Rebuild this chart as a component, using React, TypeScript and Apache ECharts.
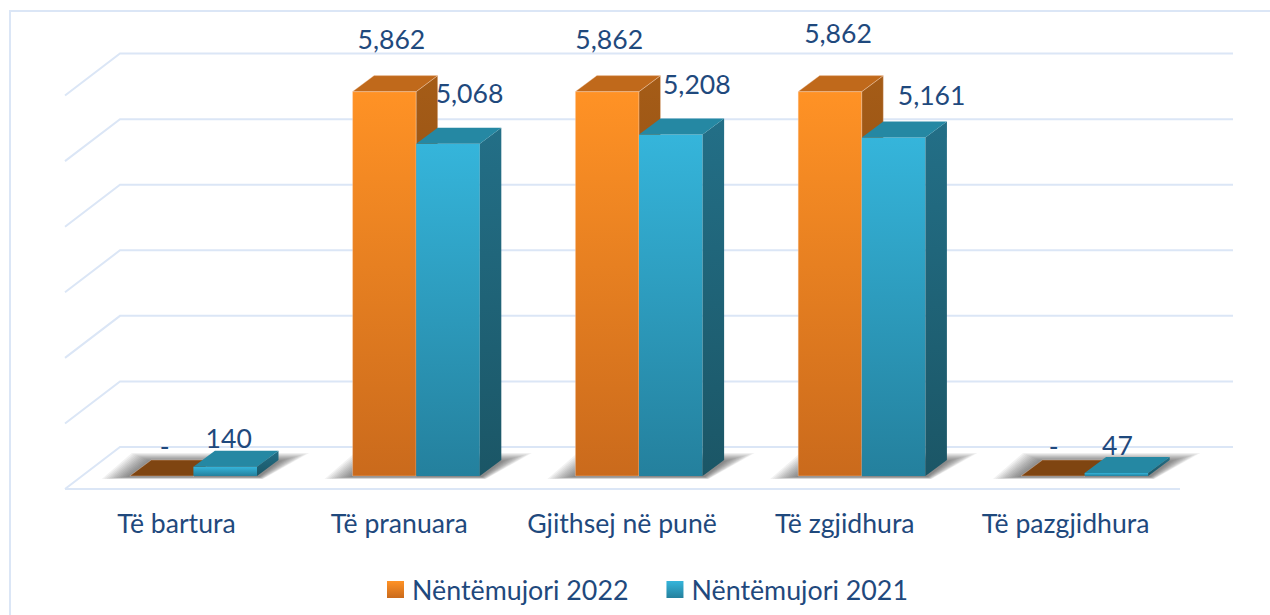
import React, { useEffect, useRef } from "react";
import * as echarts from "echarts";

const categories = ["Të bartura", "Të pranuara", "Gjithsej në punë", "Të zgjidhura", "Të pazgjidhura"];
const seriesNames = ["Nëntëmujori 2022", "Nëntëmujori 2021"];
const values2022 = [0, 5862, 5862, 5862, 0];
const values2021 = [140, 5068, 5208, 5161, 47];
const gridTicks = [0, 1000, 2000, 3000, 4000, 5000, 6000];

// Layout only: hand-placed labels of the original, relative to each bar's top centre
const labelOffsets2022 = [[3, -30], [7, -53], [2, -53], [8, -59], [1, -30]];
const labelOffsets2021 = [[3.5, -29], [21.5, -51], [26, -50.5], [38, -42.6], [1, -28]];
const categoryLabelShift = [34, 34, 34, 34, 38];

const FONT = "Lato";
const INK = "#1f497d";
const LINE = "#dbe6f6";
const VALUE_FONT = `26.6px ${FONT}`;
const DEPTH_X = 21.5;
const DEPTH_Y = 16;
const BAR_RATIO = 0.2855;

const vgrad = (a: string, b: string) => new echarts.graphic.LinearGradient(0, 0, 0, 1, [
  { offset: 0, color: a },
  { offset: 1, color: b },
]);

const fmt = (v: number) => (v === 0 ? "-" : v.toLocaleString("en-US"));

const palette = [
  { front: ["#ff9225", "#ca6a1c"], side: ["#a55c17", "#7f4511"], top: "#c0691b", flat: "#7f4511", edge: "rgba(255,225,200,0.4)" },
  { front: ["#35b5db", "#24809d"], side: ["#236f87", "#1b5666"], top: "#2588a3", flat: "#2489a3", edge: "none" },
];

function barRenderer(seriesIndex: number, offsets: number[][]) {
  return (params: any, api: any) => {
    const c = palette[seriesIndex];
    const cat = api.value(0);
    const val = api.value(1);
    const band = api.size([1, 0])[0];
    const w = band * BAR_RATIO;
    const [cx, base] = api.coord([cat, 0]);
    const top = api.coord([cat, val])[1];
    const x0 = seriesIndex === 0 ? cx - w : cx;
    const x1 = x0 + w;
    const children: any[] = [];
    const poly = (points: number[][], fill: any) => ({
      type: "polygon",
      shape: { points },
      style: { fill, stroke: c.edge, lineWidth: 0.8 },
      silent: true,
    });
    if (base - top > 0.5) {
      children.push(poly([[x0, top], [x1, top], [x1, base], [x0, base]], vgrad(c.front[0], c.front[1])));
    }
    children.push(poly([[x1, top], [x1 + DEPTH_X, top - DEPTH_Y], [x1 + DEPTH_X, base - DEPTH_Y], [x1, base]], vgrad(c.side[0], c.side[1])));
    children.push(poly([[x0, top], [x0 + DEPTH_X, top - DEPTH_Y], [x1 + DEPTH_X, top - DEPTH_Y], [x1, top]], val === 0 ? c.flat : c.top));
    const off = offsets[params.dataIndex];
    children.push({
      type: "text",
      z2: 50,
      style: {
        text: fmt(val),
        x: (x0 + x1) / 2 + off[0],
        y: top + off[1],
        fill: INK,
        font: VALUE_FONT,
        align: "center",
        verticalAlign: "middle",
      },
      silent: true,
    });
    return { type: "group", children };
  };
}

function gridRenderer(params: any, api: any) {
  const cs = params.coordSys;
  const v = api.value(0);
  const y = api.coord([0, v])[1] - 29;
  const left = cs.x;
  const right = cs.x + cs.width;
  const style = { stroke: LINE, lineWidth: 2, fill: "none" };
  const children: any[] = [
    { type: "polyline", shape: { points: [[left - 17, y + 42], [left + 38, y], [right + 37, y]] }, style, silent: true },
  ];
  if (v === 0) {
    children.push({ type: "line", shape: { x1: left - 17, y1: y + 42, x2: right - 16, y2: y + 42 }, style, silent: true });
  }
  return { type: "group", children };
}

function shadowRenderer(params: any, api: any) {
  const band = api.size([1, 0])[0];
  const w = band * BAR_RATIO;
  const [cx, base] = api.coord([api.value(0), 0]);
  const xL = cx - w;
  const xR = cx + w;
  const outer = [[xL - 28, base + 3], [xL + 2, base - 23], [xR + 52, base - 23], [xR + 6, base + 3]];
  const inner = [[xL - 2, base + 1], [xL + 20, base - 15], [xR + 23, base - 15], [xR + 2, base + 1]];
  const steps = 12;
  const children: any[] = [];
  for (let i = 0; i < steps; i++) {
    const t = i / (steps - 1);
    children.push({
      type: "polygon",
      shape: { points: outer.map((p, k) => [p[0] + (inner[k][0] - p[0]) * t, p[1] + (inner[k][1] - p[1]) * t]) },
      style: { fill: "rgba(40,40,40,0.06)" },
      silent: true,
    });
  }
  return { type: "group", children };
}

export default function App() {
  const ref = useRef<HTMLDivElement>(null);
  useEffect(() => {
    const chart = echarts.init(ref.current!, undefined, { renderer: "svg" });
    chart.setOption({
      animation: false,
      backgroundColor: "#ffffff",
      textStyle: { fontFamily: FONT },
      grid: { left: 82, top: 17, width: 1114, height: 459 },
      xAxis: {
        type: "category",
        data: categories.map((value, i) => ({
          value,
          textStyle: { padding: [0, categoryLabelShift[i], 0, 0] },
        })),
        axisLine: { show: false },
        axisTick: { show: false },
        splitLine: { show: false },
        axisLabel: { color: INK, fontSize: 26.6, fontFamily: FONT, margin: 33, interval: 0 },
      },
      yAxis: { type: "value", min: 0, max: 7000, interval: 1000, show: false, splitLine: { show: false } },
      legend: {
        left: 387,
        top: 576,
        padding: 0,
        itemWidth: 17,
        itemHeight: 17,
        itemGap: 38,
        icon: "rect",
        data: seriesNames,
        selectedMode: false,
        textStyle: { color: INK, fontSize: 26.8, fontFamily: FONT, padding: [0, 0, 0, 3] },
      },
      graphic: [
        {
          type: "polyline",
          silent: true,
          z: -1,
          shape: { points: [[10, 615], [10, 11], [1270, 11]] },
          style: { stroke: LINE, lineWidth: 2, fill: "none" },
        },
      ],
      series: [
        { type: "custom", name: "grid", z: 1, silent: true, data: gridTicks.map((t) => [t]), encode: { y: 0 }, renderItem: gridRenderer },
        { type: "custom", name: "shadow", z: 2, silent: true, data: categories.map((_, i) => [i]), encode: { x: 0 }, renderItem: shadowRenderer },
        {
          type: "custom",
          name: seriesNames[0],
          z: 3,
          itemStyle: { color: vgrad(palette[0].front[0], palette[0].front[1]) },
          data: values2022.map((v, i) => [i, v]),
          encode: { x: 0, y: 1 },
          renderItem: barRenderer(0, labelOffsets2022),
        },
        {
          type: "custom",
          name: seriesNames[1],
          z: 4,
          itemStyle: { color: vgrad(palette[1].front[0], palette[1].front[1]) },
          data: values2021.map((v, i) => [i, v]),
          encode: { x: 0, y: 1 },
          renderItem: barRenderer(1, labelOffsets2021),
        },
      ],
    });
    return () => chart.dispose();
  }, []);
  return <div ref={ref} style={{ position: "fixed", left: 0, top: 0, width: 1270, height: 615 }} />;
}
